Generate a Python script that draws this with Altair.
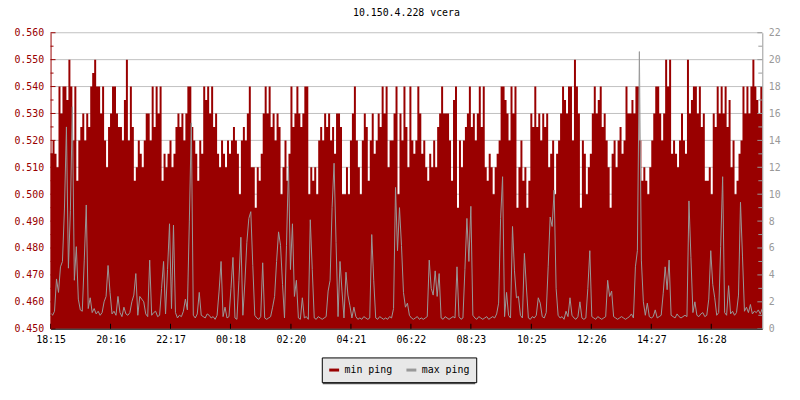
import altair as alt
import pandas as pd

# ---- data (one sample every 4 minutes, 24 h) ----
min_ping = [
    0.515, 0.520, 0.515, 0.510, 0.540, 0.530, 0.540, 0.540, 0.535, 0.550, 0.540, 0.520, 0.540, 0.505, 0.520, 0.525, 0.530, 0.520, 0.530, 0.525,
    0.540, 0.545, 0.550, 0.540, 0.540, 0.530, 0.540, 0.520, 0.510, 0.525, 0.530, 0.540, 0.540, 0.530, 0.525, 0.525, 0.520, 0.535, 0.550, 0.520,
    0.540, 0.525, 0.505, 0.510, 0.520, 0.515, 0.510, 0.520, 0.530, 0.530, 0.520, 0.540, 0.525, 0.540, 0.530, 0.540, 0.505, 0.515, 0.510, 0.515,
    0.520, 0.510, 0.515, 0.525, 0.530, 0.525, 0.530, 0.520, 0.530, 0.540, 0.540, 0.525, 0.520, 0.515, 0.505, 0.520, 0.515, 0.540, 0.535, 0.540,
    0.530, 0.540, 0.525, 0.530, 0.515, 0.510, 0.520, 0.515, 0.510, 0.520, 0.515, 0.520, 0.525, 0.520, 0.515, 0.500, 0.520, 0.525, 0.520, 0.530,
    0.540, 0.510, 0.510, 0.495, 0.510, 0.505, 0.515, 0.530, 0.540, 0.530, 0.540, 0.525, 0.530, 0.520, 0.530, 0.525, 0.500, 0.510, 0.520, 0.505,
    0.515, 0.540, 0.525, 0.530, 0.540, 0.530, 0.525, 0.530, 0.540, 0.540, 0.500, 0.510, 0.505, 0.510, 0.500, 0.520, 0.525, 0.520, 0.530, 0.525,
    0.530, 0.520, 0.525, 0.515, 0.530, 0.530, 0.525, 0.500, 0.500, 0.510, 0.500, 0.520, 0.530, 0.540, 0.520, 0.510, 0.500, 0.520, 0.530, 0.525,
    0.505, 0.520, 0.530, 0.515, 0.520, 0.530, 0.525, 0.540, 0.530, 0.540, 0.510, 0.520, 0.520, 0.530, 0.540, 0.500, 0.530, 0.520, 0.540, 0.525,
    0.510, 0.540, 0.520, 0.515, 0.520, 0.540, 0.530, 0.515, 0.520, 0.510, 0.505, 0.515, 0.510, 0.520, 0.510, 0.525, 0.530, 0.540, 0.530, 0.530,
    0.530, 0.520, 0.505, 0.535, 0.540, 0.495, 0.520, 0.510, 0.520, 0.525, 0.530, 0.540, 0.525, 0.530, 0.520, 0.530, 0.540, 0.525, 0.540, 0.510,
    0.505, 0.515, 0.510, 0.500, 0.510, 0.515, 0.520, 0.540, 0.540, 0.535, 0.530, 0.520, 0.540, 0.530, 0.540, 0.495, 0.510, 0.520, 0.505, 0.510,
    0.495, 0.505, 0.530, 0.525, 0.540, 0.525, 0.530, 0.520, 0.530, 0.525, 0.530, 0.510, 0.515, 0.520, 0.500, 0.515, 0.520, 0.530, 0.540, 0.535,
    0.530, 0.540, 0.540, 0.520, 0.550, 0.540, 0.530, 0.495, 0.520, 0.515, 0.500, 0.510, 0.515, 0.530, 0.540, 0.530, 0.535, 0.540, 0.525, 0.530,
    0.520, 0.510, 0.495, 0.515, 0.520, 0.510, 0.520, 0.525, 0.515, 0.520, 0.540, 0.530, 0.530, 0.535, 0.530, 0.540, 0.540, 0.520, 0.505, 0.510,
    0.505, 0.500, 0.510, 0.520, 0.530, 0.540, 0.540, 0.530, 0.520, 0.530, 0.550, 0.540, 0.550, 0.515, 0.520, 0.515, 0.510, 0.520, 0.530, 0.520,
    0.515, 0.550, 0.530, 0.535, 0.540, 0.540, 0.530, 0.540, 0.525, 0.530, 0.505, 0.505, 0.510, 0.500, 0.530, 0.525, 0.540, 0.530, 0.540, 0.530,
    0.540, 0.525, 0.535, 0.510, 0.520, 0.500, 0.505, 0.515, 0.520, 0.540, 0.530, 0.540, 0.530, 0.540, 0.550, 0.540, 0.535, 0.530, 0.540, 0.540,
]

max_ping = [
    1.2, 1.0, 1.3, 3.7, 2.7, 4.6, 5.0, 8.9, 15.0, 4.5, 8.8, 16.5, 3.6, 6.1, 2.2, 1.4, 1.3, 5.1, 9.2, 1.5,
    2.3, 1.2, 1.5, 1.1, 1.3, 1.0, 1.2, 2.0, 2.4, 4.7, 2.7, 1.1, 1.3, 1.0, 2.4, 1.2, 0.9, 1.6, 1.1, 1.0,
    1.2, 2.0, 2.5, 4.1, 1.0, 2.4, 2.2, 2.0, 1.1, 0.9, 5.1, 1.0, 1.2, 1.3, 0.9, 1.0, 3.0, 5.0, 1.1, 4.4,
    7.8, 1.5, 7.7, 1.2, 0.8, 1.0, 0.9, 1.3, 2.2, 1.4, 8.0, 15.3, 1.0, 0.8, 1.1, 2.7, 1.0, 0.9, 0.8, 1.1,
    1.0, 0.8, 0.9, 0.7, 1.0, 2.8, 5.0, 0.9, 1.6, 0.8, 0.9, 3.0, 5.3, 0.8, 0.7, 3.6, 6.8, 1.0, 3.4, 6.4,
    8.2, 8.7, 4.7, 1.0, 0.8, 0.7, 0.9, 4.9, 0.8, 0.7, 0.8, 0.9, 1.6, 2.4, 5.0, 7.2, 6.2, 3.3, 0.8, 6.2,
    12.1, 4.4, 7.8, 2.4, 3.6, 0.8, 0.7, 2.3, 0.8, 0.9, 0.7, 8.1, 4.4, 0.8, 0.7, 0.9, 0.8, 0.7, 0.8, 0.9,
    2.8, 3.6, 9.0, 12.3, 6.4, 0.9, 5.0, 2.8, 0.8, 4.2, 2.5, 1.7, 0.8, 1.6, 0.9, 0.7, 0.8, 0.7, 0.9, 0.8,
    0.7, 0.8, 7.0, 3.6, 0.8, 0.7, 0.9, 0.8, 0.7, 0.8, 0.7, 0.9, 0.8, 1.5, 10.5, 5.8, 9.0, 6.2, 2.7, 1.6,
    1.9, 1.0, 0.8, 0.7, 0.8, 0.9, 0.7, 0.8, 0.7, 0.8, 0.9, 5.1, 3.0, 2.5, 4.3, 2.4, 4.1, 0.8, 0.7, 0.9,
    0.8, 0.7, 0.8, 0.9, 0.8, 4.6, 0.9, 0.7, 0.8, 4.4, 8.2, 5.0, 9.1, 1.0, 0.8, 0.7, 0.9, 0.8, 0.7, 0.8,
    0.9, 0.7, 0.8, 0.9, 0.8, 1.1, 1.9, 8.2, 11.3, 0.9, 2.7, 1.0, 0.8, 7.6, 4.3, 2.3, 2.4, 1.0, 0.8, 5.6,
    3.1, 0.8, 0.7, 0.9, 0.8, 1.0, 2.3, 1.9, 0.9, 0.8, 1.2, 4.6, 8.3, 7.6, 10.3, 3.0, 1.0, 0.8, 0.9, 0.7,
    1.3, 0.9, 2.3, 1.0, 0.8, 0.7, 0.9, 2.0, 0.8, 0.7, 0.8, 3.0, 5.8, 0.9, 0.8, 0.7, 0.9, 0.8, 0.7, 0.8,
    0.9, 3.6, 2.4, 2.8, 0.9, 0.8, 0.7, 0.8, 0.9, 0.8, 0.7, 0.8, 0.9, 1.1, 0.8, 4.6, 5.8, 20.6, 5.1, 2.0,
    1.0, 1.9, 0.9, 0.8, 0.9, 1.4, 0.8, 0.9, 1.0, 2.6, 4.6, 2.9, 5.1, 1.0, 0.9, 0.8, 1.1, 0.9, 0.8, 0.9,
    1.0, 0.9, 9.5, 5.3, 1.2, 2.0, 1.0, 0.9, 1.1, 1.2, 0.9, 1.0, 2.2, 5.8, 3.3, 2.3, 1.0, 1.2, 6.1, 11.3,
    1.2, 1.0, 3.2, 1.1, 1.3, 1.0, 1.2, 2.5, 9.4, 5.4, 1.3, 1.6, 1.2, 1.8, 1.1, 1.3, 1.2, 1.4, 1.1, 1.5,
]

sample_minutes = 4
x_tick_pos = [0, 121, 242, 363, 485, 606, 727, 848, 970, 1091, 1212, 1333]
x_tick_labels = ["18:15", "20:16", "22:17", "00:18", "02:20", "04:21",
                 "06:22", "08:23", "10:25", "12:26", "14:27", "16:28"]
left_major = [0.450, 0.460, 0.470, 0.480, 0.490, 0.500, 0.510, 0.520, 0.530, 0.540, 0.550, 0.560]
left_minor = [0.455, 0.465, 0.475, 0.485, 0.495, 0.505, 0.515, 0.525, 0.535, 0.545, 0.555]
right_major = [0, 2, 4, 6, 8, 10, 12, 14, 16, 18, 20, 22]
right_minor = [1, 3, 5, 7, 9, 11, 13, 15, 17, 19, 21]
series_names = ["min ping", "max ping"]
title_text = "10.150.4.228 vcera"

RED = "#990000"
GRAY = "#999999"
GRID = "#c0c0c0"
FONT = "DejaVu Sans Mono"
W, H = 719, 299
LEG_X, LEG_Y = 274, 328

n = min(len(min_ping), len(max_ping))
df = pd.DataFrame({
    "t": [i * sample_minutes for i in range(n)],
    "min": min_ping[:n],
    "max": max_ping[:n],
    "s": ["max ping"] * n,
})

xscale = alt.Scale(domain=[0, (n - 1) * sample_minutes], nice=False, zero=False)
yl = alt.Scale(domain=[0.45, 0.56], nice=False, zero=False)
yr = alt.Scale(domain=[0, 22], nice=False, zero=False)

label_expr = "[" + ",".join("'%s'" % s for s in x_tick_labels) + "][indexof([" + \
    ",".join(str(v) for v in x_tick_pos) + "], datum.value)]"

x_axis = alt.Axis(
    values=x_tick_pos, labelExpr=label_expr, title=None, grid=False, tickSize=0,
    domainColor="black", labelColor="black", labelFont=FONT, labelFontSize=10,
    labelPadding=6, labelFlush=False, labelOverlap=False, zindex=1)
yl_axis = alt.Axis(
    values=left_major, format=".3f", title=None, grid=False,
    tickSize=0, domainColor=RED, labelColor=RED, labelFont=FONT, labelFontSize=10,
    labelPadding=7, zindex=1)
yr_axis = alt.Axis(
    orient="right", values=right_major, title=None, grid=False, tickSize=0,
    domainColor=GRAY, labelColor=GRAY, labelFont=FONT, labelFontSize=10,
    labelPadding=6, zindex=1)

# horizontal grid lines (drawn first, beneath the data)
grid = alt.Chart(pd.DataFrame({"v": left_major})).mark_rule(color=GRID).encode(
    y=alt.Y("v:Q", scale=yl, axis=yl_axis), x=alt.value(0), x2=alt.value(W))

area = alt.Chart(df).mark_area(interpolate="step-after", color=RED).encode(
    x=alt.X("t:Q", scale=xscale, axis=x_axis),
    y=alt.Y("min:Q", scale=yl, axis=yl_axis),
    y2=alt.datum(0.45),
)

lt_major = alt.Chart(pd.DataFrame({"v": left_major})).mark_rule(color=RED).encode(
    y=alt.Y("v:Q", scale=yl, axis=yl_axis), x=alt.value(0), x2=alt.value(5))
lt_minor = alt.Chart(pd.DataFrame({"v": left_minor})).mark_rule(color=RED).encode(
    y=alt.Y("v:Q", scale=yl, axis=yl_axis), x=alt.value(0), x2=alt.value(3))
bt = alt.Chart(pd.DataFrame({"v": x_tick_pos})).mark_rule(color="black").encode(
    x=alt.X("v:Q", scale=xscale, axis=x_axis), y=alt.value(H - 5), y2=alt.value(H))

# drop shadow behind the legend box
shadow = alt.Chart(pd.DataFrame({"k": [0]})).mark_rect(color="#5a5a5a").encode(
    x=alt.value(LEG_X + 1), x2=alt.value(LEG_X + 155),
    y=alt.value(LEG_Y + 3), y2=alt.value(LEG_Y + 27))

line = alt.Chart(df).mark_line(interpolate="linear", strokeWidth=1).encode(
    x=alt.X("t:Q", scale=xscale, axis=x_axis),
    y=alt.Y("max:Q", scale=yr, axis=yr_axis),
    color=alt.Color("s:N", scale=alt.Scale(domain=series_names, range=[RED, GRAY]),
                    legend=alt.Legend(
                        title=None, orient="none", legendX=LEG_X, legendY=LEG_Y,
                        direction="horizontal", fillColor="#e8e8e8", strokeColor="black",
                        padding=6, symbolType="stroke", symbolStrokeWidth=3, symbolSize=100,
                        labelFont=FONT, labelFontSize=10, labelColor="black",
                        columnPadding=7, labelOffset=4)),
)
rt_major = alt.Chart(pd.DataFrame({"v": right_major})).mark_rule(color=GRAY).encode(
    y=alt.Y("v:Q", scale=yr, axis=yr_axis), x=alt.value(W - 5), x2=alt.value(W))
rt_minor = alt.Chart(pd.DataFrame({"v": right_minor})).mark_rule(color=GRAY).encode(
    y=alt.Y("v:Q", scale=yr, axis=yr_axis), x=alt.value(W - 4), x2=alt.value(W))

left = alt.layer(grid, area, lt_major, lt_minor, bt, shadow)
right = alt.layer(line, rt_major, rt_minor)

chart = alt.layer(left, right).resolve_scale(y="independent").properties(
    width=W, height=H,
    title=alt.TitleParams(title_text, font=FONT, fontSize=10, fontWeight="normal",
                          color="black", anchor="middle", offset=10),
    autosize=alt.AutoSizeParams(type="none"),
    padding={"left": 43, "top": 23, "right": 30, "bottom": 70},
    background="white",
).configure_view(stroke=None)

chart.save("out.html", embed_options={"renderer": "svg", "actions": False})
